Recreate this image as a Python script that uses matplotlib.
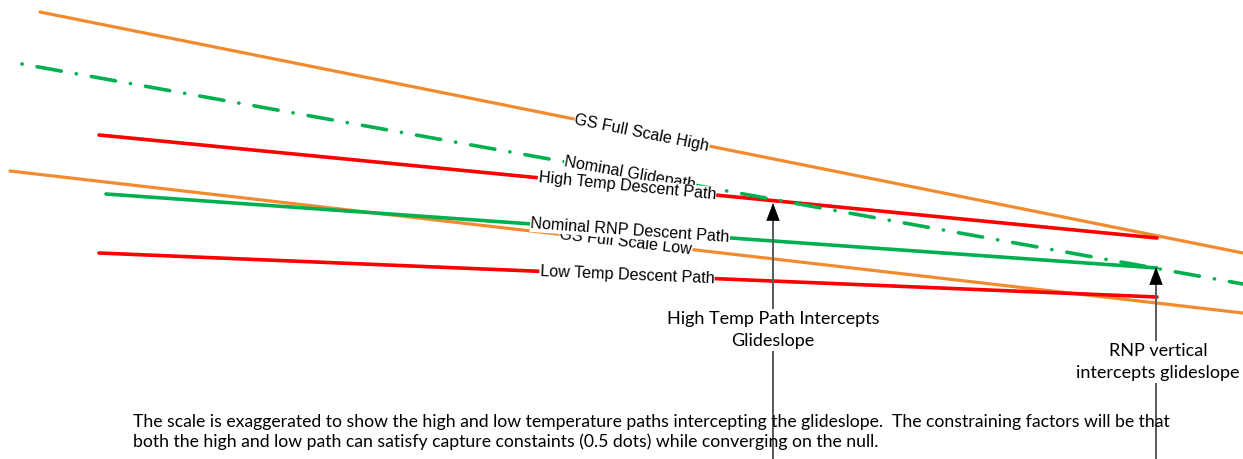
import numpy as np
import matplotlib.pyplot as plt

# line end points, in picture pixels (x right, y down)
gs_high_x = [40, 1243]
gs_high_y = [12, 253]
glidepath_x = [22, 1243]
glidepath_y = [64, 284]
high_temp_x = [99, 1157]
high_temp_y = [135, 238]
gs_low_x = [10, 1243]
gs_low_y = [171, 313]
rnp_x = [106, 1157]
rnp_y = [194, 268]
low_temp_x = [99, 1157]
low_temp_y = [253, 297]

# arrows: x, tip y
arrow_x = [773, 1156]
arrow_tip = [203, 267]

orange = '#F28A2E'
red = '#FF0000'
green = '#00B050'

fig = plt.figure(figsize=(12.43, 4.59), dpi=100)
ax = fig.add_axes([0, 0, 1, 1])
ax.set_xlim(0, 1243)
ax.set_ylim(459, 0)
ax.axis('off')

ax.plot(gs_high_x, gs_high_y, color=orange, lw=2.3, solid_capstyle='round', zorder=2)
ax.plot(gs_low_x, gs_low_y, color=orange, lw=2.3, solid_capstyle='round', zorder=2)
ax.plot(high_temp_x, high_temp_y, color=red, lw=2.6, solid_capstyle='round', zorder=2)
ax.plot(low_temp_x, low_temp_y, color=red, lw=2.6, solid_capstyle='round', zorder=2)
ax.plot(rnp_x, rnp_y, color=green, lw=2.6, solid_capstyle='round', zorder=2)
gp, = ax.plot(glidepath_x, glidepath_y, color=green, lw=2.6, zorder=2,
              dash_capstyle='round')
# dash pattern is scaled by line width
gp.set_dashes([0.05, 4.2, 6.8, 4.2])


def label(xs, ys, text, xc, z):
    slope = (ys[1] - ys[0]) / (xs[1] - xs[0])
    yc = ys[0] + slope * (xc - xs[0])
    ang = -np.degrees(np.arctan(slope))
    ax.text(xc, yc, text, rotation=ang, rotation_mode='anchor', ha='center', va='center',
            fontsize=11.6, family='Liberation Sans', zorder=z,
            bbox=dict(facecolor='white', edgecolor='none', pad=0.3))


label(gs_high_x, gs_high_y, 'GS Full Scale High', 642, 5)
label(glidepath_x, glidepath_y, 'Nominal Glidepath', 630, 5)
label(high_temp_x, high_temp_y, 'High Temp Descent Path', 627, 6)
label(gs_low_x, gs_low_y, 'GS Full Scale Low', 626, 5)
label(rnp_x, rnp_y, 'Nominal RNP Descent Path', 630, 6)
label(low_temp_x, low_temp_y, 'Low Temp Descent Path', 627, 6)

# vertical arrows
for x, tip in zip(arrow_x, arrow_tip):
    ax.plot([x, x], [459, tip + 10], color='#595959', lw=1.4, zorder=3)
    ax.annotate('', xy=(x, tip), xytext=(x, tip + 17), zorder=4,
                arrowprops=dict(arrowstyle='-|>,head_length=0.85,head_width=0.32',
                                color='black', lw=0.5, shrinkA=0, shrinkB=0,
                                mutation_scale=14))

ax.text(773, 330, 'High Temp Path Intercepts\nGlideslope', ha='center', va='center',
        fontsize=13, family='Lato', linespacing=1.4, zorder=6,
        bbox=dict(facecolor='white', edgecolor='none', pad=2))
ax.text(1158, 362, 'RNP vertical\nintercepts glideslope', ha='center', va='center',
        fontsize=13, family='Lato', linespacing=1.4, zorder=6,
        bbox=dict(facecolor='white', edgecolor='none', pad=2))

ax.text(133, 432, 'The scale is exaggerated to show the high and low temperature paths intercepting '
        'the glideslope.  The constraining factors will be that\nboth the high and low path can '
        'satisfy capture constaints (0.5 dots) while converging on the null.',
        ha='left', va='center', fontsize=12.7, family='Lato', linespacing=1.3, zorder=7)

fig.savefig('out.png', dpi=100)
